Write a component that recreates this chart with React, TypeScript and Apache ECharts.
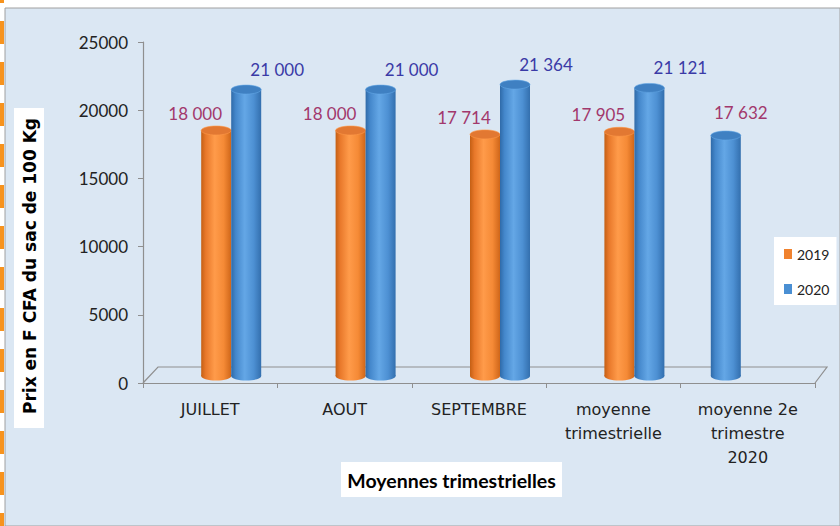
import React, { useEffect, useRef } from "react";
import * as echarts from "echarts";

const categories = [
  "JUILLET",
  "AOUT",
  "SEPTEMBRE",
  "moyenne\ntrimestrielle",
  "moyenne 2e\ntrimestre\n2020",
];
const seriesNames = ["2019", "2020"];
const values2019: (number | null)[] = [18000, 18000, 17714, 17905, 17632];
const values2020: (number | null)[] = [21000, 21000, 21364, 21121, null];
const yMin = 0;
const yMax = 25000;
const yInterval = 5000;
const yTitle = "Prix en F CFA du sac de 100 Kg";
const xTitle = "Moyennes trimestrielles";

const fmt = (v: number) => String(v).replace(/\B(?=(\d{3})+(?!\d))/g, " ");

const ORANGE = {
  main: "#f0822e",
  body: ["#c45f14", "#e8782a", "#ff9b4a", "#f58a36", "#cf6619"],
  top: "#e27832",
  label: "#a2386c",
};
const BLUE = {
  main: "#4a8fd3",
  body: ["#2f6aa8", "#4487cb", "#64a7e6", "#4d90d3", "#336fae"],
  top: "#3f80c2",
  label: "#3a3aa6",
};

const grad = (c: string[]) =>
  new echarts.graphic.LinearGradient(0, 0, 1, 0, [
    { offset: 0, color: c[0] },
    { offset: 0.15, color: c[1] },
    { offset: 0.45, color: c[2] },
    { offset: 0.75, color: c[3] },
    { offset: 1, color: c[4] },
  ]);

const BAR_W = 30;
const RY = 4.5;
const DEPTH = 7;
const FONT = '17px Lato, "Noto Sans", sans-serif';

function cylinder(
  cx: number,
  topY: number,
  baseY: number,
  pal: typeof ORANGE,
  text: string,
  labelColor: string,
  ldx: number,
  ldy: number
) {
  return {
    type: "group",
    children: [
      {
        type: "ellipse",
        shape: { cx, cy: baseY, rx: BAR_W / 2, ry: RY },
        style: { fill: grad(pal.body) },
      },
      {
        type: "rect",
        shape: { x: cx - BAR_W / 2, y: topY, width: BAR_W, height: baseY - topY },
        style: { fill: grad(pal.body) },
      },
      {
        type: "ellipse",
        shape: { cx, cy: topY, rx: BAR_W / 2, ry: RY },
        style: { fill: pal.top, stroke: pal.body[2], lineWidth: 0.6 },
      },
      {
        type: "text",
        x: cx + ldx,
        y: topY + ldy,
        style: {
          text,
          fill: labelColor,
          font: FONT,
          align: "center",
          verticalAlign: "middle",
          textAlign: "center",
          textVerticalAlign: "middle",
        },
      },
    ],
  };
}

export default function App() {
  const ref = useRef<HTMLDivElement>(null);
  useEffect(() => {
    if (!ref.current) return;
    const chart = echarts.init(ref.current, null, { renderer: "svg" });

    const render2019 = (params: any, api: any) => {
      const i = api.value(0);
      const v = api.value(1);
      if (v == null || isNaN(v)) return null;
      const alone = values2020[i] == null;
      const pal = alone ? BLUE : ORANGE;
      const p = api.coord([i, v]);
      const b = api.coord([i, 0]);
      const cx = p[0] + (alone ? -22 : 6);
      return cylinder(
        cx,
        p[1] - DEPTH,
        b[1] - DEPTH,
        pal,
        fmt(v),
        ORANGE.label,
        alone ? 15 : -21,
        alone ? -23 : -17
      );
    };
    const render2020 = (params: any, api: any) => {
      const i = api.value(0);
      const v = api.value(1);
      if (v == null || isNaN(v)) return null;
      const p = api.coord([i, v]);
      const b = api.coord([i, 0]);
      const cx = p[0] + 36;
      return cylinder(cx, p[1] - DEPTH, b[1] - DEPTH, BLUE, fmt(v), BLUE.label, 31, -20);
    };

    const option: any = {
      animation: false,
      backgroundColor: "#ffffff",
      grid: { left: 143, right: 25, top: 42, bottom: 143 },
      legend: {
        data: seriesNames,
        orient: "vertical",
        left: 774,
        top: 237,
        icon: "rect",
        itemWidth: 8,
        itemHeight: 10,
        itemGap: 19,
        backgroundColor: "#ffffff",
        padding: [9, 7, 8, 10],
        textStyle: {
          fontFamily: 'Lato, "Noto Sans", sans-serif',
          fontSize: 14,
          color: "#222",
          lineHeight: 16,
        },
      },
      xAxis: {
        type: "category",
        data: categories,
        boundaryGap: true,
        axisLine: { show: true, lineStyle: { color: "#8f8f8f", width: 1.2 } },
        axisTick: { show: true, length: 5, lineStyle: { color: "#8f8f8f" } },
        axisLabel: {
          margin: 14,
          fontFamily: '"DejaVu Sans", sans-serif',
          fontSize: 16,
          lineHeight: 24,
          color: "#222",
          interval: 0,
        },
        splitLine: { show: false },
      },
      yAxis: {
        type: "value",
        min: yMin,
        max: yMax,
        interval: yInterval,
        axisLine: { show: true, lineStyle: { color: "#8f8f8f", width: 1.2 } },
        axisTick: { show: true, length: 5, lineStyle: { color: "#8f8f8f" } },
        axisLabel: {
          margin: 15,
          fontFamily: 'Lato, "Noto Sans", sans-serif',
          fontSize: 17,
          color: "#222",
          formatter: (v: number) => String(v),
        },
        splitLine: { show: false },
      },
      graphic: [
        {
          type: "rect",
          z: -100,
          silent: true,
          shape: { x: 5, y: 8, width: 835, height: 518 },
          style: { fill: "#dbe7f3", stroke: "#a0a0a0", lineWidth: 1 },
        },
        {
          type: "line",
          silent: true,
          shape: { x1: 2, y1: 0, x2: 2, y2: 526 },
          style: { stroke: "#f7931e", lineWidth: 4, lineDash: [23, 18], lineDashOffset: 20 },
        },
        {
          type: "polyline",
          silent: true,
          shape: {
            points: [
              [143, 383],
              [158, 367],
              [827, 367],
              [815, 383],
            ],
          },
          style: { stroke: "#8f8f8f", lineWidth: 1.2, fill: "none" },
        },
        {
          type: "rect",
          silent: true,
          shape: { x: 14, y: 108, width: 30, height: 320 },
          style: { fill: "#ffffff" },
        },
        {
          type: "text",
          silent: true,
          x: 30,
          y: 266,
          rotation: Math.PI / 2,
          style: {
            text: yTitle,
            font: 'bold 17px "DejaVu Sans", sans-serif',
            fill: "#000",
            align: "center",
            verticalAlign: "middle",
            textAlign: "center",
            textVerticalAlign: "middle",
          },
        },
        {
          type: "rect",
          silent: true,
          shape: { x: 341, y: 462, width: 221, height: 35 },
          style: { fill: "#ffffff" },
        },
        {
          type: "text",
          silent: true,
          x: 451.5,
          y: 480,
          style: {
            text: xTitle,
            font: 'bold 19.5px Lato, "Noto Sans", sans-serif',
            fill: "#000",
            align: "center",
            verticalAlign: "middle",
            textAlign: "center",
            textVerticalAlign: "middle",
          },
        },
      ],
      series: [
        {
          name: seriesNames[0],
          type: "custom",
          renderItem: render2019,
          itemStyle: { color: ORANGE.main },
          encode: { x: 0, y: 1 },
          data: values2019.map((v, i) => [i, v == null ? "-" : v]),
          z: 5,
        },
        {
          name: seriesNames[1],
          type: "custom",
          renderItem: render2020,
          itemStyle: { color: BLUE.main },
          encode: { x: 0, y: 1 },
          data: values2020.map((v, i) => [i, v == null ? "-" : v]),
          z: 5,
        },
      ],
    };
    chart.setOption(option);
    return () => chart.dispose();
  }, []);
  return (
    <div
      ref={ref}
      style={{ position: "fixed", left: 0, top: 0, width: 840, height: 526 }}
    />
  );
}
